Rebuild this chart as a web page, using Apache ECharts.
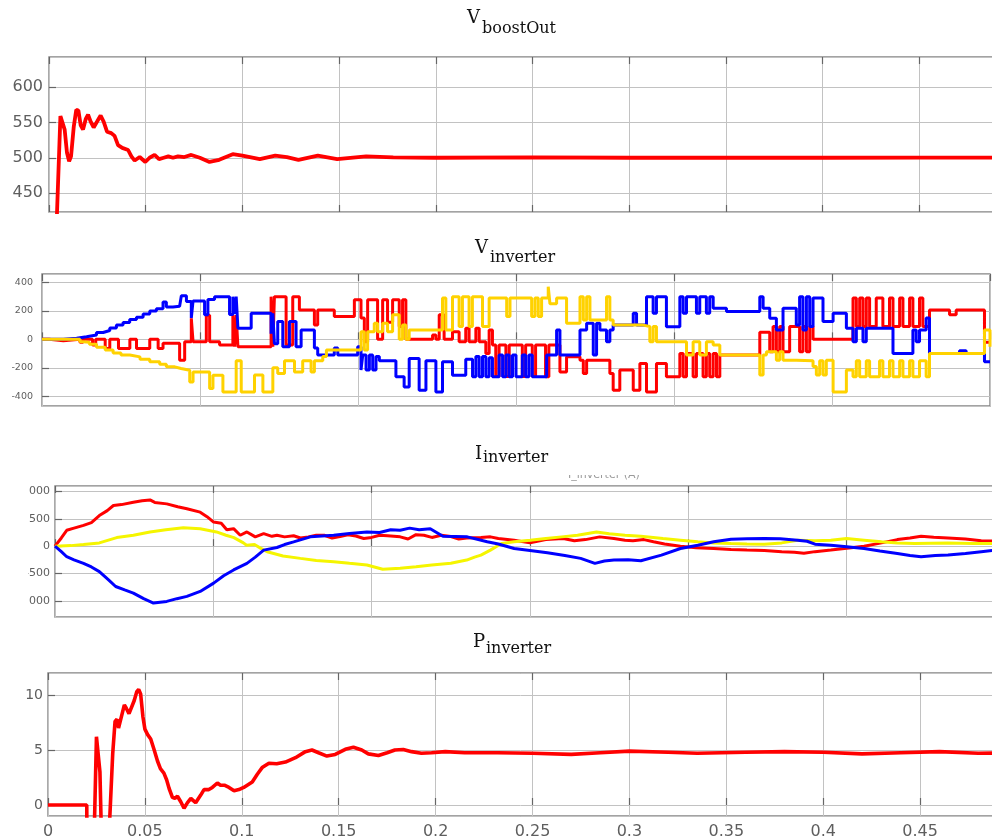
<!DOCTYPE html>
<html><head><meta charset="utf-8">
<script src="https://cdn.jsdelivr.net/npm/echarts@6/dist/echarts.min.js"></script>
<style>html,body{margin:0;padding:0;background:#fff}#c{width:992px;height:840px}</style>
</head><body><div id="c"></div><script>
// ---------- Panel 1: V_boostOut ----------
const tBoost = [0,0.0036,0.0059,0.0069,0.0081,0.0093,0.0104,0.0114,0.0128,0.0141,0.0152,0.0164,0.0176,0.0190,0.0202,0.0216,0.0231,0.0248,0.0267,0.0283,0.0300,0.0322,0.0339,0.0357,0.0379,0.0409,0.0426,0.0443,0.0469,0.0498,0.0520,0.0546,0.0569,0.0593,0.0617,0.0641,0.0667,0.0700,0.0736,0.0780,0.0830,0.0880,0.0950,0.1000,0.1090,0.1170,0.1230,0.1290,0.1390,0.1490,0.1640,0.1780,0.2000,0.2500,0.3000,0.3500,0.4000,0.4500,0.5000];
const vBoost = [0,380,559,560,540,507,495,502,544,568,567,546,540,555,561,551,543,551,560,551,537,535,531,518,514,511,502,496,501,494,500,504,498,500,502,500,502,501,504,500,494,497,505,503,498,503,501,497,503,498,502,500.5,500,500.5,500,500.3,500,500.2,500];

// ---------- Panel 2: V_inverter (phase voltages, stepped) ----------
const tVinvBlue = [0,0.0135,0.0219,0.0282,0.0345,0.0387,0.0429,0.0471,0.0513,0.0555,0.0598,0.0640,0.0682,0.0724,0.0766,0.0787,0.0829,0.0871,0.0882,0.0914,0.0945,0.0956,0.1029,0.1050,0.1092,0.1187,0.1208,0.1219,0.1229,0.1240,0.1324,0.1450,0.1461,0.1471,0.1492,0.1524,0.1566,0.1608,0.1640,0.1724,0.1745,0.1850,0.1872,0.1998,0.2019,0.2030,0.2051,0.2072,0.2093,0.2114,0.2135,0.2240,0.2292,0.2324,0.2387,0.2430,0.2493,0.2535,0.2598,0.2682,0.2725,0.2746,0.2767,0.2788,0.2809,0.2830,0.2851,0.2893,0.2915,0.2936,0.2957,0.2978,0.3000,0.3040,0.3061,0.3082,0.3103,0.3194,0.3257,0.3278,0.3405,0.3447,0.3489,0.3510,0.3531,0.3573,0.3594,0.3615,0.3742,0.3763,0.3826,0.3868,0.3889,0.3952,0.4037,0.4058,0.4079,0.4142,0.4163,0.4205,0.4226,0.4248,0.4332,0.4543,0.4564,0.4606,0.4648,0.4690,0.4774,0.4795,0.4816,0.4838,0.4859,0.4880,0.4943,0.5007,0.5091,0.5133,0.5154,0.5196,0.5217,0.5386,0.5512,0.5533,0.5554,0.5596,0.5617,0.5807,0.5849,0.5965,0.6000];
const vVinvBlue = [0,8,18,30,48,62,80,100,118,140,155,178,200,215,262,228,232,245,306,266,150,270,172,280,300,175,300,180,300,78,183,40,183,-30,125,-52,125,-52,66,-60,-110,-60,-110,-52,-216,-110,-216,-110,-216,-120,-150,-263,-334,-134,-357,-150,-370,-157,-252,-140,-263,-120,-263,-120,-263,-130,-263,-110,-263,-110,-263,-110,-263,-110,-263,-110,-263,-110,66,-110,66,113,-110,113,66,-16,66,100,183,100,300,183,300,89,300,183,300,183,300,183,300,218,195,300,218,148,66,218,100,300,66,300,90,290,125,183,78,-16,78,-16,78,-100,66,-16,66,150,-100,-80,-100,-157,-157];
const tVinvRed = [0,0.0045,0.0135,0.0240,0.0260,0.0320,0.0340,0.0400,0.0429,0.0484,0.0556,0.0598,0.0682,0.0735,0.0766,0.0871,0.0903,0.0945,0.0956,0.1040,0.1061,0.1124,0.1208,0.1219,0.1229,0.1240,0.1450,0.1461,0.1471,0.1545,0.1587,0.1629,0.1724,0.1745,0.1850,0.1977,0.2019,0.2040,0.2061,0.2124,0.2156,0.2187,0.2219,0.2261,0.2282,0.2303,0.2472,0.2493,0.2514,0.2545,0.2598,0.2640,0.2682,0.2703,0.2746,0.2767,0.2809,0.2830,0.2851,0.2872,0.2893,0.2936,0.2957,0.3040,0.3061,0.3103,0.3124,0.3187,0.3208,0.3278,0.3320,0.3405,0.3426,0.3447,0.3594,0.3615,0.3657,0.3742,0.3784,0.3826,0.3889,0.3952,0.4037,0.4058,0.4079,0.4121,0.4142,0.4184,0.4205,0.4226,0.4248,0.4269,0.4290,0.4543,0.4606,0.4627,0.4648,0.4669,0.4690,0.4732,0.4795,0.4816,0.4838,0.4859,0.4880,0.5133,0.5154,0.5175,0.5196,0.5217,0.5238,0.5280,0.5322,0.5364,0.5386,0.5428,0.5449,0.5491,0.5512,0.5554,0.5575,0.5617,0.5744,0.5786,0.5965,0.6000];
const vVinvRed = [0,-10,0,-20,0,-40,0,-64,0,-64,0,-64,0,-64,-28,-146,-16,148,-16,170,-16,-40,170,-52,170,-52,300,-52,300,-40,300,207,100,207,160,278,150,-16,278,0,278,120,278,90,278,0,30,0,172,0,54,-16,78,-16,78,-16,-100,66,-40,-260,-40,-260,-40,-260,-40,-260,-40,-263,-40,-230,-122,-146,-240,-146,-240,-357,-216,-357,-170,-370,-170,-263,-100,-263,-100,-263,-100,-263,-100,-263,-100,-263,-110,50,-87,90,-87,90,-87,90,-87,90,-87,90,0,290,90,290,90,290,90,290,90,290,90,290,90,290,90,290,90,207,172,207,-20,-20];
const tVinvYellow = [0,0.0240,0.0260,0.0300,0.0345,0.0400,0.0450,0.0500,0.0556,0.0620,0.0682,0.0745,0.0787,0.0840,0.0880,0.0935,0.0956,0.1061,0.1082,0.1145,0.1229,0.1261,0.1345,0.1398,0.1461,0.1492,0.1535,0.1598,0.1650,0.1703,0.1724,0.1777,0.1800,0.1977,0.2019,0.2040,0.2061,0.2103,0.2124,0.2156,0.2187,0.2219,0.2261,0.2282,0.2303,0.2324,0.2535,0.2556,0.2598,0.2640,0.2661,0.2703,0.2724,0.2788,0.2830,0.2941,0.2962,0.3099,0.3120,0.3141,0.3162,0.3204,0.3215,0.3257,0.3320,0.3405,0.3426,0.3447,0.3468,0.3573,0.3594,0.3615,0.3805,0.3847,0.3868,0.3889,0.4079,0.4121,0.4163,0.4205,0.4248,0.4290,0.4543,0.4564,0.4585,0.4648,0.4669,0.4690,0.4774,0.4880,0.4901,0.4922,0.4943,0.4964,0.5007,0.5091,0.5133,0.5154,0.5175,0.5217,0.5238,0.5301,0.5322,0.5364,0.5386,0.5428,0.5449,0.5491,0.5512,0.5554,0.5596,0.5617,0.5965,0.6000];
const vVinvYellow = [0,-16,-20,-35,-55,-75,-95,-110,-123,-140,-158,-175,-193,-205,-217,-300,-229,-345,-252,-370,-150,-370,-250,-370,-200,-240,-150,-230,-150,-230,-150,-120,-75,-75,54,-75,54,113,54,113,54,172,0,100,0,66,290,66,300,90,300,90,300,90,290,160,290,160,290,160,290,370,250,290,113,300,136,300,136,300,136,100,90,-16,90,-16,-110,-16,-110,-16,-40,-110,-250,-110,-87,-146,-87,-146,-150,-190,-250,-150,-250,-146,-370,-216,-263,-150,-263,-150,-263,-150,-263,-150,-263,-150,-263,-150,-263,-150,-263,-100,66,-52];

// ---------- Panel 3: I_inverter (phase currents) ----------
const tIinvRed = [0,0.004,0.0074,0.012,0.018,0.023,0.028,0.033,0.0369,0.042,0.0495,0.055,0.060,0.063,0.0706,0.0775,0.0833,0.0917,0.096,0.1002,0.105,0.1085,0.1128,0.117,0.1212,0.1265,0.1318,0.137,0.1402,0.145,0.1507,0.155,0.160,0.165,0.170,0.175,0.180,0.185,0.190,0.195,0.200,0.205,0.210,0.218,0.223,0.228,0.233,0.238,0.244,0.250,0.255,0.260,0.269,0.275,0.280,0.290,0.300,0.310,0.321,0.328,0.335,0.344,0.353,0.360,0.365,0.372,0.378,0.385,0.395,0.405,0.416,0.427,0.437,0.448,0.459,0.467,0.473,0.480,0.490,0.500,0.511,0.522,0.532,0.540,0.547,0.555,0.564,0.575,0.585,0.600];
const vIinvRed = [0,150,290,330,380,430,560,650,743,760,803,830,845,800,773,720,683,622,540,440,420,300,320,200,260,170,230,180,200,170,190,150,170,200,200,150,175,210,185,140,160,200,190,170,130,210,200,160,200,175,130,150,158,170,140,109,60,120,140,100,120,170,140,110,100,120,80,40,0,-30,-43,-60,-72,-80,-102,-110,-130,-100,-72,-40,0,60,120,150,180,165,150,130,100,90];
const tIinvBlue = [0,0.004,0.0074,0.012,0.018,0.023,0.028,0.034,0.0383,0.044,0.0495,0.056,0.0622,0.0706,0.077,0.0833,0.0917,0.1002,0.1065,0.1128,0.1212,0.1265,0.1318,0.1402,0.145,0.1507,0.1613,0.176,0.186,0.197,0.205,0.212,0.218,0.224,0.230,0.237,0.245,0.2604,0.273,0.280,0.290,0.300,0.311,0.322,0.332,0.341,0.347,0.353,0.362,0.370,0.383,0.395,0.406,0.416,0.427,0.437,0.448,0.458,0.469,0.475,0.480,0.490,0.500,0.511,0.521,0.532,0.540,0.547,0.556,0.564,0.575,0.585,0.594,0.600];
const vIinvBlue = [0,-100,-193,-250,-314,-380,-465,-620,-737,-800,-858,-960,-1040,-1010,-960,-918,-828,-676,-540,-435,-314,-200,-72,-24,30,78,170,199,230,259,250,300,290,330,300,320,180,170,80,40,-43,-80,-121,-170,-223,-314,-270,-254,-250,-266,-163,-43,18,80,127,135,140,135,109,90,36,18,-10,-43,-90,-133,-170,-194,-170,-163,-133,-100,-72,-72];
const tIinvYellow = [0,0.010,0.018,0.028,0.039,0.0495,0.060,0.070,0.081,0.0917,0.102,0.108,0.113,0.119,0.121,0.126,0.130,0.134,0.144,0.155,0.165,0.176,0.186,0.197,0.207,0.218,0.228,0.238,0.250,0.260,0.265,0.269,0.275,0.282,0.290,0.300,0.310,0.320,0.330,0.342,0.350,0.360,0.370,0.384,0.395,0.406,0.416,0.427,0.437,0.448,0.459,0.469,0.480,0.490,0.500,0.511,0.522,0.532,0.543,0.553,0.564,0.580,0.600];
const vIinvYellow = [0,10,30,60,157,200,260,302,338,320,260,200,157,60,18,30,-40,-102,-181,-223,-260,-284,-314,-344,-423,-405,-375,-344,-314,-254,-200,-163,-72,48,80,109,140,170,200,259,229,200,181,140,110,80,60,48,40,36,60,109,100,109,140,110,80,60,48,55,60,50,48];

// ---------- Panel 4: P_inverter ----------
const tPinv = [0,0.0200,0.0201,0.0238,0.0250,0.0257,0.0268,0.0276,0.0314,0.0334,0.0346,0.0356,0.0364,0.0372,0.0384,0.0394,0.0404,0.0418,0.0428,0.0445,0.0458,0.0468,0.0478,0.0490,0.0500,0.0514,0.0530,0.0548,0.0565,0.0580,0.0598,0.0612,0.0625,0.0642,0.0655,0.0668,0.0685,0.0702,0.0719,0.0737,0.0750,0.0762,0.0788,0.0805,0.0830,0.0848,0.0874,0.0890,0.0910,0.0934,0.0960,0.0985,0.1010,0.1054,0.1080,0.1105,0.1140,0.1180,0.1225,0.1277,0.1328,0.1362,0.1396,0.1439,0.1482,0.1534,0.1576,0.1619,0.1653,0.1705,0.1750,0.1790,0.1833,0.1876,0.1927,0.1979,0.2050,0.2150,0.2320,0.2500,0.2700,0.2850,0.3000,0.3200,0.3350,0.3600,0.3800,0.4000,0.4200,0.4400,0.4600,0.4800,0.5000];
const vPinv = [0,0,-3,-3,6.2,6.2,3,-3,-3,4.7,7.6,7.8,7.0,6.9,8.4,9.1,8.8,8.3,8.4,9.5,10.3,10.5,10.1,8.0,6.9,6.4,6.0,5.0,4.0,3.3,2.9,2.3,1.5,0.7,0.6,0.8,0.3,-0.3,0.2,0.6,0.4,0.2,0.9,1.4,1.4,1.6,2.0,1.8,1.8,1.6,1.3,1.4,1.6,2.1,2.8,3.4,3.8,3.75,3.9,4.3,4.85,5.0,4.75,4.45,4.6,5.06,5.25,5.0,4.65,4.5,4.75,5.0,5.05,4.85,4.7,4.75,4.85,4.75,4.75,4.7,4.6,4.75,4.9,4.8,4.7,4.8,4.85,4.8,4.65,4.75,4.85,4.7,4.75];

const xTickLabels = ['0','0.05','0.1','0.15','0.2','0.25','0.3','0.35','0.4','0.45'];

function pairs(ts, vs){ return ts.map((t,i)=>[t, vs[i]]); }

const RED='#ff0000', BLUE='#0000ff', GOLD='#ffd200', YEL='#f5f500';
const GRIDC='#c2c2c2', BORDER='#858585', TICKC='#666666', LABC='#5e5e5e';

const grids = [
  {left:49, top:57,  right:-24, height:155},
  {left:42, top:274, right:2,   height:132},
  {left:55, top:486, right:-13, height:131},
  {left:48, top:673, right:-25, height:143}
].map(g=>Object.assign({show:true, borderColor:BORDER, borderWidth:1.4, backgroundColor:'#fff', containLabel:false, outerBoundsMode:'none'}, g));

const xMax=[0.5,0.6,0.6,0.5], xInt=[0.05,0.1,0.1,0.05];
const xAxes=[];
for(let i=0;i<4;i++){
  xAxes.push({type:'value', gridIndex:i, min:0, max:xMax[i], interval:xInt[i],
    axisLine:{show:false}, axisTick:{show:true, inside:true, length:7, lineStyle:{color:TICKC, width:1.2}},
    splitLine:{show:true, lineStyle:{color:GRIDC, width:1}},
    axisLabel: i===3 ? {show:true, margin:8, color:LABC, fontFamily:'DejaVu Sans', fontSize:16,
      formatter:(v)=>{const k=Math.round(v/0.05); return (k>=0&&k<xTickLabels.length)?xTickLabels[k]:'';}} : {show:false}
  });
}
for(let i=0;i<4;i++){
  xAxes.push({type:'value', gridIndex:i, position:'top', min:0, max:xMax[i], interval:xInt[i],
    axisLine:{show:false}, axisTick:{show:true, inside:true, length:7, lineStyle:{color:TICKC, width:1.2}},
    splitLine:{show:false}, axisLabel:{show:false}});
}
const yCfg=[
  {min:423, max:643, split:4, fs:16, margin:6},
  {min:-468, max:459, split:5, fs:9.5, margin:9},
  {min:-1295, max:1100, split:5, fs:11, margin:5},
  {min:-1, max:12, split:3, fs:14, margin:5}
];
const yAxes=yCfg.map((c,i)=>({type:'value', gridIndex:i, min:c.min, max:c.max, splitNumber:c.split,
  axisLine:{show:false}, axisTick:{show:true, inside:true, length:7, lineStyle:{color:TICKC, width:1.2}},
  splitLine:{show:true, lineStyle:{color:GRIDC, width:1}},
  axisLabel:{show:true, margin:c.margin, color:LABC, fontFamily:'DejaVu Sans', fontSize:c.fs, showMinLabel:false, showMaxLabel:false}
}));

function line(name, x, y, data, color, width, step){
  return {name, type:'line', xAxisIndex:x, yAxisIndex:y, data, step: step||false, showSymbol:false, symbol:'none',
    lineStyle:{color, width}, itemStyle:{color}, animation:false, clip:true, z:3};
}

const series=[
  line('VboostOut',0,0,pairs(tBoost,vBoost),RED,3.8),
  line('Va',1,1,pairs(tVinvRed,vVinvRed),RED,3,'end'),
  line('Vb',1,1,pairs(tVinvBlue,vVinvBlue),BLUE,3,'end'),
  line('Vc',1,1,pairs(tVinvYellow,vVinvYellow),GOLD,3,'end'),
  line('Ia',2,2,pairs(tIinvRed,vIinvRed),RED,3),
  line('Ic',2,2,pairs(tIinvYellow,vIinvYellow),YEL,3),
  line('Ib',2,2,pairs(tIinvBlue,vIinvBlue),BLUE,3),
  line('Pinv',3,3,pairs(tPinv,vPinv),RED,3.6)
];

function title(x, y, main, sub, subDx, subDy){
  return [
    {type:'text', x:x, y:y, z:50, style:{text:main, font:'18px "DejaVu Serif"', fill:'#111', verticalAlign:'bottom'}},
    {type:'text', x:x+subDx, y:y+subDy, z:50, style:{text:sub, font:'16px "DejaVu Serif"', fill:'#111', verticalAlign:'bottom'}}
  ];
}

const graphics = [].concat(
  title(467, 27, 'V', 'boostOut', 15, 10),
  title(475, 257, 'V', 'inverter', 15, 9),
  title(475, 463, 'I', 'inverter', 8, 3),
  title(473, 651, 'P', 'inverter', 13, 6),
  [
    {type:'text', x:568, y:481, z:40, style:{text:'I_inverter (A)', font:'11px "DejaVu Sans"', fill:'#9a9a9a', verticalAlign:'bottom'}},
    {type:'rect', x:560, y:462, z:45, shape:{width:110, height:13}, style:{fill:'#fff'}},
    {type:'rect', x:0, y:480, z:100, shape:{width:28, height:145}, style:{fill:'#fff'}}
  ]
);

const chart = echarts.init(document.getElementById('c'), null, {renderer:'canvas'});
chart.setOption({
  animation:false,
  backgroundColor:'#fff',
  grid:grids, xAxis:xAxes, yAxis:yAxes, series,
  graphic:{elements:graphics}
});
</script></body></html>
